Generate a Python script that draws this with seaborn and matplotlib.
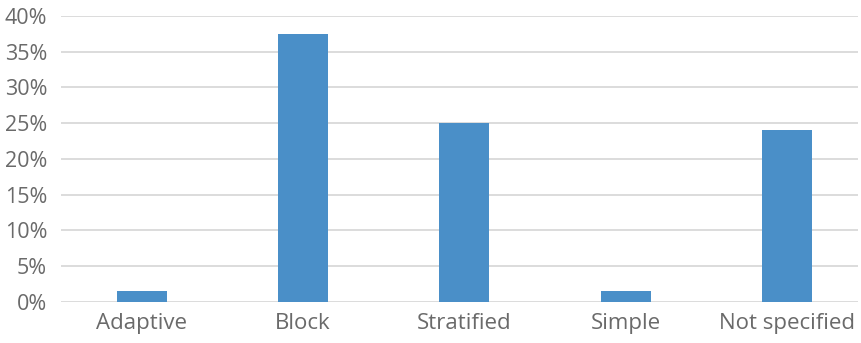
import matplotlib
matplotlib.use("Agg")
import matplotlib.pyplot as plt
import seaborn as sns
import pandas as pd
from matplotlib.ticker import FuncFormatter

categories = ["Adaptive", "Block", "Stratified", "Simple", "Not specified"]
shares = [1.6, 37.5, 25.0, 1.6, 24.1]
y_ticks = [0, 5, 10, 15, 20, 25, 30, 35, 40]

df = pd.DataFrame({"method": categories, "share": shares})

sns.set_theme(style="white")
plt.rcParams["font.family"] = ["Open Sans", "DejaVu Sans"]

fig = plt.figure(figsize=(8.61, 3.43), dpi=100)
ax = fig.add_axes([61 / 861, 1 - 302 / 343, (858 - 61) / 861, (302 - 16) / 343])

sns.barplot(data=df, x="method", y="share", color="#4a8fc8", saturation=1,
            width=0.31, linewidth=0, ax=ax, zorder=3)

ax.set_ylim(0, 40)
ax.set_xlim(-0.5, 4.44)
ax.set_yticks(y_ticks)
ax.yaxis.set_major_formatter(FuncFormatter(lambda v, _: f"{v:.0f}%"))
ax.grid(axis="y", color="#d9d9d9", linewidth=1.3, zorder=0)
for s in ax.spines.values():
    s.set_visible(False)
ax.tick_params(axis="x", length=0, labelsize=16, colors="#6a6a6a", pad=8)
ax.tick_params(axis="y", length=0, labelsize=15.5, colors="#6a6a6a", pad=10)
ax.set_xlabel("")
ax.set_ylabel("")

fig.savefig("out.png", dpi=100)
